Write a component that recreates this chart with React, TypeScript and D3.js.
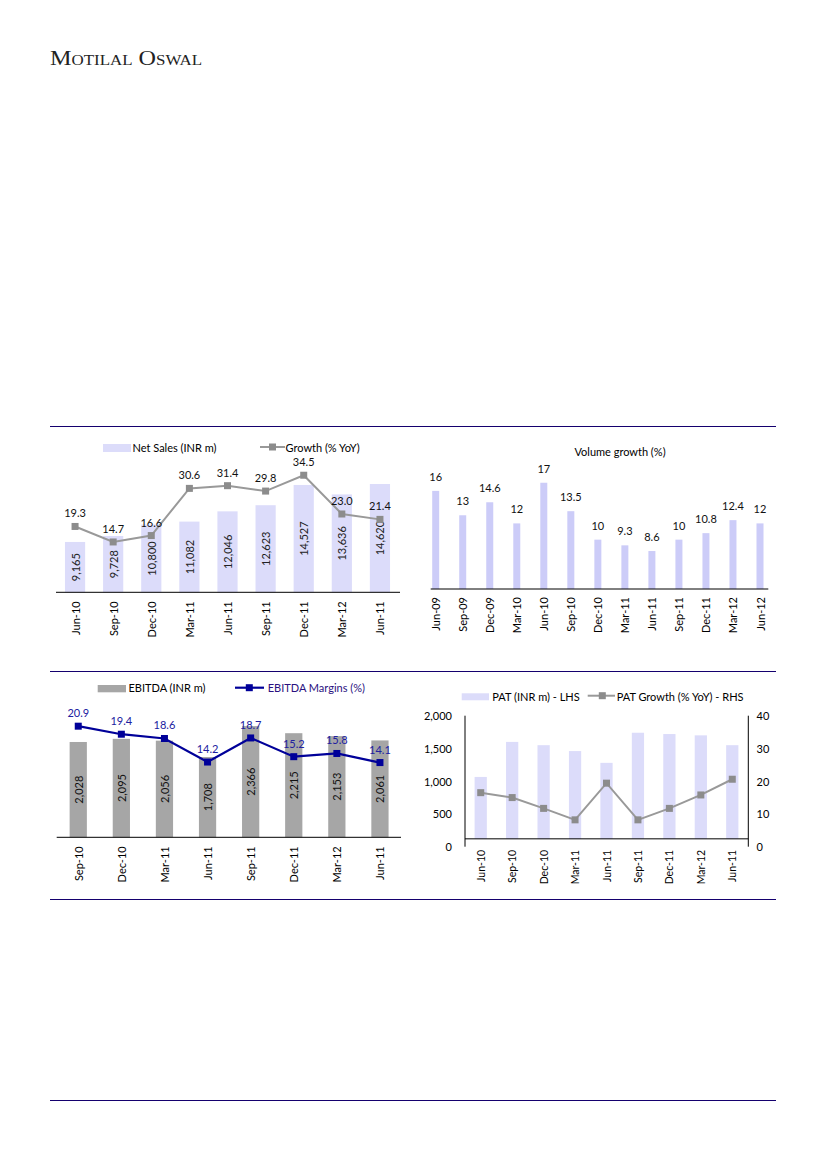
import React from "react";
import * as d3 from "d3";

// ---------- DATA ----------
const salesCats = ["Jun-10", "Sep-10", "Dec-10", "Mar-11", "Jun-11", "Sep-11", "Dec-11", "Mar-12", "Jun-11"];
const netSales = [9165, 9728, 10800, 11082, 12046, 12623, 14527, 13636, 14620];
const salesGrowth = [19.3, 14.7, 16.6, 30.6, 31.4, 29.8, 34.5, 23.0, 21.4];

const volCats = ["Jun-09", "Sep-09", "Dec-09", "Mar-10", "Jun-10", "Sep-10", "Dec-10", "Mar-11", "Jun-11", "Sep-11", "Dec-11", "Mar-12", "Jun-12"];
const volGrowth = [16, 13, 14.6, 12, 17, 13.5, 10, 9.3, 8.6, 10, 10.8, 12.4, 12];
const volLabels = ["16", "13", "14.6", "12", "17", "13.5", "10", "9.3", "8.6", "10", "10.8", "12.4", "12"];

const ebitdaCats = ["Sep-10", "Dec-10", "Mar-11", "Jun-11", "Sep-11", "Dec-11", "Mar-12", "Jun-11"];
const ebitda = [2028, 2095, 2056, 1708, 2366, 2215, 2153, 2061];
const ebitdaMargin = [20.9, 19.4, 18.6, 14.2, 18.7, 15.2, 15.8, 14.1];

const patCats = ["Jun-10", "Sep-10", "Dec-10", "Mar-11", "Jun-11", "Sep-11", "Dec-11", "Mar-12", "Jun-11"];
const pat = [1065, 1600, 1550, 1460, 1280, 1740, 1720, 1700, 1550];
const patGrowth = [16.5, 15.0, 11.7, 8.2, 19.4, 8.2, 11.7, 15.8, 20.6];
const patLeftTicks = [0, 500, 1000, 1500, 2000];
const patRightTicks = [0, 10, 20, 30, 40];

// ---------- STYLE ----------
const FONT = "Lato, 'Open Sans', sans-serif";
const RULE = "#14006e";
const LAV = "#dcdcfa";
const LAV2 = "#ccccf8";
const GRAY_LINE = "#999999";
const GRAY_MARK = "#8c8c8c";
const GRAY_BAR = "#a6a6a6";
const NAVY = "#000099";
const NAVY_TXT = "#2020a0";
const fmt = d3.format(",");

function CatLabels({ cats, x, y, size = 11 }: { cats: string[]; x: (i: number) => number; y: number; size?: number }) {
  return (
    <g>
      {cats.map((c, i) => (
        <text key={i} transform={`translate(${x(i)},${y}) rotate(-90)`} textAnchor="end" dominantBaseline="central" fontSize={size} fontFamily={FONT} fill="#000">
          {c}
        </text>
      ))}
    </g>
  );
}

function Square({ cx, cy, s, fill }: { cx: number; cy: number; s: number; fill: string }) {
  return <rect x={cx - s / 2} y={cy - s / 2} width={s} height={s} fill={fill} />;
}

function Chart1() {
  const base = 592.3;
  const xb = d3.scaleBand<string>().domain(salesCats.map((c, i) => i + "")).range([56, 399]);
  const cx = (i: number) => (xb(i + "") as number) + xb.bandwidth() / 2;
  const bw = xb.bandwidth() * 0.53;
  const y = d3.scaleLinear().domain([4430, 16000]).range([base, base - (16000 - 4430) * 0.01063]);
  const y2 = d3.scaleLinear().domain([0, 40]).range([591.5, 591.5 - 40 * 3.37]);
  const line = d3.line<number>().x((_, i) => cx(i)).y((d) => y2(d));
  return (
    <g>
      {netSales.map((v, i) => (
        <rect key={i} x={cx(i) - bw / 2} y={y(v)} width={bw} height={base - y(v)} fill={LAV} />
      ))}
      {netSales.map((v, i) => (
        <text key={i} transform={`translate(${cx(i)},${(y(v) + base) / 2}) rotate(-90)`} textAnchor="middle" dominantBaseline="central" fontSize={11} fontFamily={FONT} fill="#222">
          {fmt(v)}
        </text>
      ))}
      <line x1={56} x2={400} y1={base} y2={base} stroke="#000" strokeWidth={1} />
      <path d={line(salesGrowth) as string} fill="none" stroke={GRAY_LINE} strokeWidth={2} />
      {salesGrowth.map((v, i) => (
        <Square key={i} cx={cx(i)} cy={y2(v)} s={7} fill={GRAY_MARK} />
      ))}
      {salesGrowth.map((v, i) => (
        <text key={i} x={cx(i)} y={y2(v) - 9} textAnchor="middle" fontSize={11} fontFamily={FONT} fill="#111">
          {v.toFixed(1)}
        </text>
      ))}
      <CatLabels cats={salesCats} x={cx} y={base + 9} />
      {/* legend */}
      <rect x={103} y={444} width={28} height={8} fill={LAV} />
      <text x={132.5} y={447.5} dominantBaseline="central" fontSize={11} fontFamily={FONT}>Net Sales (INR m)</text>
      <line x1={260} x2={285} y1={447} y2={447} stroke={GRAY_LINE} strokeWidth={2} />
      <Square cx={272.5} cy={447} s={7} fill={GRAY_MARK} />
      <text x={285.5} y={447.5} dominantBaseline="central" fontSize={11} fontFamily={FONT}>Growth (% YoY)</text>
    </g>
  );
}

function Chart2() {
  const base = 589;
  const xp = d3.scalePoint<string>().domain(volCats.map((c, i) => i + "")).range([435.7, 760]);
  const cx = (i: number) => xp(i + "") as number;
  const bw = 7;
  const y = d3.scaleLinear().domain([3.93, 20]).range([base, base - (20 - 3.93) * 8.13]);
  return (
    <g>
      <text x={620} y={451} textAnchor="middle" dominantBaseline="central" fontSize={11} fontFamily={FONT}>Volume growth (%)</text>
      {volGrowth.map((v, i) => (
        <rect key={i} x={cx(i) - bw / 2} y={y(v)} width={bw} height={base - y(v)} fill={LAV2} />
      ))}
      {volGrowth.map((v, i) => (
        <text key={i} x={cx(i)} y={y(v) - 10} textAnchor="middle" fontSize={11} fontFamily={FONT} fill="#111">
          {volLabels[i]}
        </text>
      ))}
      <line x1={430.7} x2={768.3} y1={base} y2={base} stroke="#000" strokeWidth={1} />
      <CatLabels cats={volCats} x={cx} y={base + 8} />
    </g>
  );
}

function Chart3() {
  const base = 837.3;
  const xb = d3.scaleBand<string>().domain(ebitdaCats.map((c, i) => i + "")).range([56.7, 401.5]);
  const cx = (i: number) => (xb(i + "") as number) + xb.bandwidth() / 2;
  const bw = xb.bandwidth() * 0.4;
  const y = d3.scaleLinear().domain([0, 2500]).range([base, base - 2500 * 0.047]);
  const y2 = d3.scaleLinear().domain([0, 25]).range([838, 838 - 25 * 5.35]);
  const line = d3.line<number>().x((_, i) => cx(i)).y((d) => y2(d));
  return (
    <g>
      {ebitda.map((v, i) => (
        <rect key={i} x={cx(i) - bw / 2} y={y(v)} width={bw} height={base - y(v)} fill={GRAY_BAR} />
      ))}
      {ebitda.map((v, i) => (
        <text key={i} transform={`translate(${cx(i)},${(y(v) + base) / 2}) rotate(-90)`} textAnchor="middle" dominantBaseline="central" fontSize={11} fontFamily={FONT} fill="#111">
          {fmt(v)}
        </text>
      ))}
      <line x1={56.7} x2={401} y1={base} y2={base} stroke="#000" strokeWidth={1} />
      <path d={line(ebitdaMargin) as string} fill="none" stroke={NAVY} strokeWidth={2.2} />
      {ebitdaMargin.map((v, i) => (
        <Square key={i} cx={cx(i)} cy={y2(v)} s={7} fill={NAVY} />
      ))}
      {ebitdaMargin.map((v, i) => (
        <text key={i} x={cx(i)} y={y2(v) - 9} textAnchor="middle" fontSize={11} fontFamily={FONT} fill={NAVY_TXT}>
          {v.toFixed(1)}
        </text>
      ))}
      <CatLabels cats={ebitdaCats} x={cx} y={base + 9} />
      <rect x={97.7} y={685} width={28.3} height={7.3} fill={GRAY_BAR} />
      <text x={128.5} y={687.5} dominantBaseline="central" fontSize={11} fontFamily={FONT}>EBITDA (INR m)</text>
      <line x1={235} x2={264} y1={687.7} y2={687.7} stroke={NAVY} strokeWidth={2.2} />
      <Square cx={249.3} cy={687.7} s={7} fill={NAVY} />
      <text x={267.7} y={687.5} dominantBaseline="central" fontSize={11} fontFamily={FONT} fill="#2a1080">EBITDA Margins (%)</text>
    </g>
  );
}

function Chart4() {
  const bottom = 846.7;
  const top = 715.7;
  const xb = d3.scaleBand<string>().domain(patCats.map((c, i) => i + "")).range([465, 748]);
  const cx = (i: number) => (xb(i + "") as number) + xb.bandwidth() / 2;
  const bw = xb.bandwidth() * 0.39;
  const y = d3.scaleLinear().domain([0, 2000]).range([bottom, top]);
  const y2 = d3.scaleLinear().domain([0, 40]).range([bottom, top]);
  const cross = y(120);
  const line = d3.line<number>().x((_, i) => cx(i)).y((d) => y2(d));
  return (
    <g>
      {pat.map((v, i) => (
        <rect key={i} x={cx(i) - bw / 2} y={y(v)} width={bw} height={cross - y(v)} fill={LAV} />
      ))}
      <line x1={465} x2={465} y1={top} y2={bottom} stroke="#000" strokeWidth={1} />
      <line x1={748.3} x2={748.3} y1={top} y2={bottom} stroke="#000" strokeWidth={1} />
      <line x1={465} x2={748.3} y1={cross} y2={cross} stroke="#000" strokeWidth={1} />
      {patLeftTicks.map((t) => (
        <text key={t} x={452} y={y(t)} textAnchor="end" dominantBaseline="central" fontSize={11} fontFamily={FONT}>
          {fmt(t)}
        </text>
      ))}
      {patRightTicks.map((t) => (
        <text key={t} x={756.5} y={y2(t)} textAnchor="start" dominantBaseline="central" fontSize={11} fontFamily={FONT}>
          {t}
        </text>
      ))}
      <path d={line(patGrowth) as string} fill="none" stroke={GRAY_LINE} strokeWidth={2} />
      {patGrowth.map((v, i) => (
        <Square key={i} cx={cx(i)} cy={y2(v)} s={7} fill={GRAY_MARK} />
      ))}
      <CatLabels cats={patCats} x={cx} y={cross + 11} size={10.5} />
      <rect x={461.7} y={693.3} width={27.3} height={7} fill={LAV} />
      <text x={492.3} y={696} dominantBaseline="central" fontSize={11} fontFamily={FONT}>PAT (INR m) - LHS</text>
      <line x1={587.7} x2={615} y1={695.7} y2={695.7} stroke={GRAY_LINE} strokeWidth={2} />
      <Square cx={602.3} cy={695.7} s={7} fill={GRAY_MARK} />
      <text x={616.7} y={696} dominantBaseline="central" fontSize={11} fontFamily={FONT}>PAT Growth (% YoY) - RHS</text>
    </g>
  );
}

export default function App() {
  const rules = [426, 671, 899, 1100];
  return (
    <svg width={826} height={1169} style={{ position: "absolute", left: 0, top: 0, display: "block", background: "#fff" }}>
      <rect width={826} height={1169} fill="#fff" />
      <text x={50} y={65} fontFamily="'Liberation Serif', 'DejaVu Serif', serif" fontSize={20} style={{ fontVariant: "small-caps" }} textLength={152} lengthAdjust="spacingAndGlyphs" fill="#222">
        Motilal Oswal
      </text>
      {rules.map((r) => (
        <line key={r} x1={50} x2={776} y1={r + 0.5} y2={r + 0.5} stroke={RULE} strokeWidth={1.2} />
      ))}
      <Chart1 />
      <Chart2 />
      <Chart3 />
      <Chart4 />
    </svg>
  );
}
